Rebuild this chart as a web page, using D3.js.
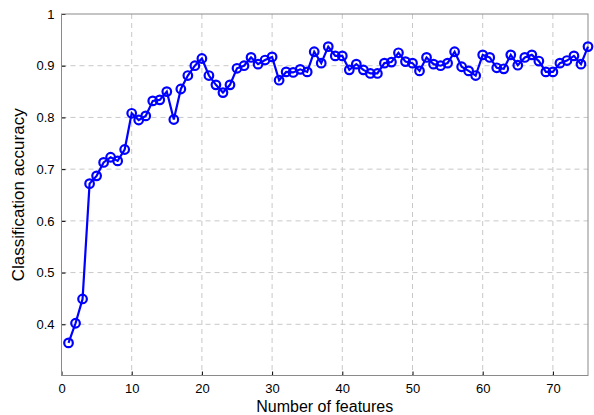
<!DOCTYPE html>
<html><head><meta charset="utf-8">
<script src="https://cdn.jsdelivr.net/npm/d3@7"></script>
<style>body{margin:0;background:#fff}svg{display:block}text{font-family:"Liberation Sans",Arial,sans-serif}</style>
</head><body>
<svg id="c" width="594" height="415"></svg>
<script>
const features = d3.range(1, 76);
const accuracy = [0.364,0.402,0.449,0.672,0.687,0.713,0.723,0.716,0.738,0.808,
0.795,0.803,0.832,0.834,0.850,0.796,0.855,0.881,0.900,0.914,
0.881,0.863,0.848,0.863,0.895,0.900,0.916,0.903,0.911,0.917,
0.872,0.888,0.887,0.893,0.888,0.927,0.905,0.937,0.919,0.919,
0.892,0.903,0.892,0.885,0.885,0.905,0.907,0.925,0.908,0.905,
0.890,0.916,0.903,0.900,0.905,0.927,0.898,0.890,0.881,0.921,
0.916,0.896,0.894,0.921,0.901,0.916,0.921,0.909,0.888,0.888,
0.905,0.910,0.919,0.903,0.937];
const xTicks = [0,10,20,30,40,50,60,70];
const yTicks = [0.4,0.5,0.6,0.7,0.8,0.9,1];
const xTitle = "Number of features";
const yTitle = "Classification accuracy";

const L=61.5, R=588, T=14, B=375.5;
const svg = d3.select("#c");
const x = d3.scaleLinear().domain([0,75]).range([L,R]);
const y = d3.scaleLinear().domain([0.301,1]).range([B,T]);

const g = svg.append("g");
g.selectAll(".gx").data(xTicks.filter(d=>d>0)).join("line")
  .attr("x1",d=>x(d)).attr("x2",d=>x(d)).attr("y1",T).attr("y2",B)
  .attr("stroke","#c8c8c8").attr("stroke-dasharray","5,4").attr("stroke-width",1);
g.selectAll(".gy").data(yTicks.filter(d=>d<1)).join("line")
  .attr("y1",d=>y(d)).attr("y2",d=>y(d)).attr("x1",L).attr("x2",R)
  .attr("stroke","#c8c8c8").attr("stroke-dasharray","5,4").attr("stroke-width",1);

const xa = svg.append("g").attr("transform",`translate(0,${B})`)
  .call(d3.axisBottom(x).tickValues(xTicks).tickSizeInner(-4).tickSizeOuter(0).tickPadding(8).tickFormat(d3.format("d")));
const ya = svg.append("g").attr("transform",`translate(${L},0)`)
  .call(d3.axisLeft(y).tickValues(yTicks).tickSizeInner(-4).tickSizeOuter(0).tickPadding(7).tickFormat(d=>d===1?"1":d3.format(".1f")(d)));
[xa,ya].forEach(a=>{
  a.select(".domain").remove();
  a.selectAll(".tick line").attr("stroke","#000");
  a.selectAll(".tick text").attr("font-size",13).attr("fill","#000").attr("font-family",'"Liberation Sans",Arial,sans-serif');
});
svg.append("rect").attr("x",L).attr("y",T).attr("width",R-L).attr("height",B-T)
  .attr("fill","none").attr("stroke","#8a8a8a").attr("stroke-width",1);

const line = d3.line().x((d,i)=>x(features[i])).y(d=>y(d));
svg.append("path").datum(accuracy).attr("d",line)
  .attr("fill","none").attr("stroke","#0000ff").attr("stroke-width",2.2);
svg.selectAll(".pt").data(accuracy).join("circle")
  .attr("cx",(d,i)=>x(features[i])).attr("cy",d=>y(d)).attr("r",4.3)
  .attr("fill","none").attr("stroke","#0000ff").attr("stroke-width",2.2);

svg.append("text").attr("x",(L+R)/2).attr("y",411.5).attr("text-anchor","middle")
  .attr("font-size",16).text(xTitle);
svg.append("text").attr("transform",`translate(24,${(T+B)/2}) rotate(-90)`)
  .attr("text-anchor","middle").attr("font-size",17).text(yTitle);
</script>
</body></html>
